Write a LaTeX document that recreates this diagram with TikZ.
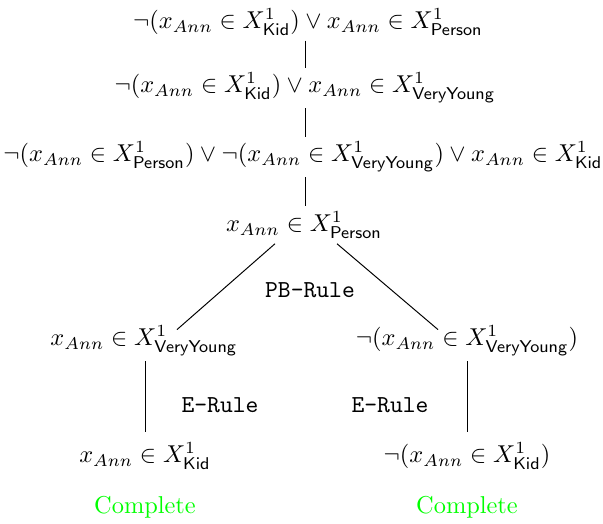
\documentclass[tikz,border=0pt]{standalone}
\usepackage{amsmath,amssymb}
\usetikzlibrary{calc}
\newcommand{\xann}{x_{Ann}}
\newcommand{\cls}[1]{X^1_{\mathsf{#1}}}
\tikzset{
  form/.style={inner sep=2pt},
  rulelab/.style={font=\ttfamily},
  done/.style={text=green},
  edge/.style={line width=.4pt}
}
\begin{document}
\begin{tikzpicture}[x=.41pt,y=-.41pt]
  \useasboundingbox (0,0) rectangle (603,524);
  \node[form] (f1) at (308,22) {$\neg(\xann\in\cls{Kid})\vee\xann\in\cls{Person}$};
  \node[form] (f2) at (305,88) {$\neg(\xann\in\cls{Kid})\vee\xann\in\cls{VeryYoung}$};
  \node[form] (f3) at (303,157) {$\neg(\xann\in\cls{Person})\vee\neg(\xann\in\cls{VeryYoung})\vee\xann\in\cls{Kid}$};
  \node[form] (f4) at (304,225) {$\xann\in\cls{Person}$};
  \node[form] (yes) at (144,341) {$\xann\in\cls{VeryYoung}$};
  \node[form] (no) at (467,341) {$\neg(\xann\in\cls{VeryYoung})$};
  \node[form] (kid) at (145,456) {$\xann\in\cls{Kid}$};
  \node[form] (nokid) at (467,456) {$\neg(\xann\in\cls{Kid})$};
  \node[done] (c1) at (145,507) {Complete};
  \node[done] (c2) at (467,507) {Complete};
  \node[rulelab] (pb) at (310,290) {PB-Rule};
  \node[rulelab] (er1) at (220,405) {E-Rule};
  \node[rulelab] (er2) at (390,405) {E-Rule};
  \draw[edge] (f2.north |- f1.south) -- (f2.north);
  \draw[edge] (f2.south) -- (f2.south |- f3.north);
  \draw[edge] (f2.south |- f3.south) -- (f2.south |- f4.north);
  \draw[edge] ($(f4.south)+(-29,0)$) -- ($(yes.north)+(33,9)$);
  \draw[edge] ($(f4.south)+(33,0)$) -- ($(no.north)+(-29,9)$);
  \draw[edge,shorten >=2pt] (kid.north |- yes.south) -- (kid.north);
  \draw[edge,shorten >=2pt] (no.south) -- (no.south |- nokid.north);
\end{tikzpicture}
\end{document}
